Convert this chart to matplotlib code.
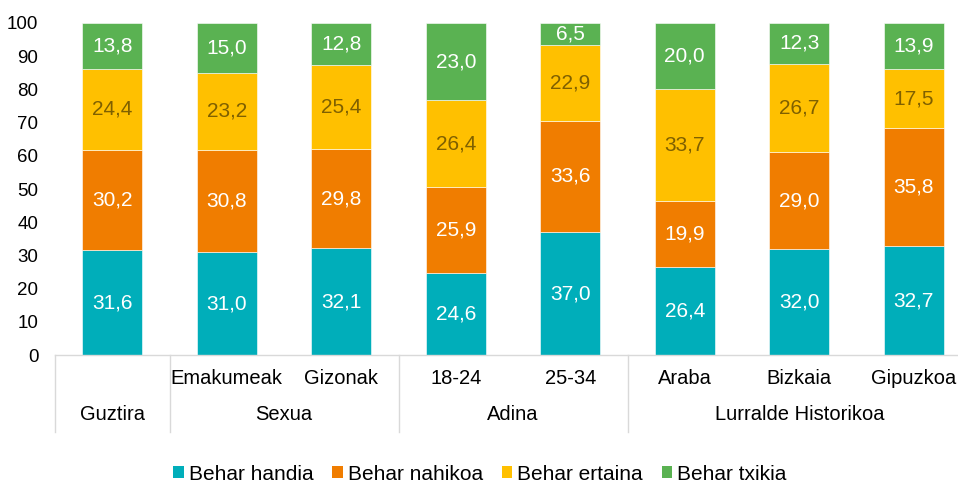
import matplotlib
matplotlib.use("Agg")
import matplotlib.pyplot as plt
from matplotlib.patches import Patch
from matplotlib.lines import Line2D
import numpy as np

plt.rcParams['font.family'] = ['Liberation Sans', 'DejaVu Sans']

categories = ["", "Emakumeak", "Gizonak", "18-24", "25-34", "Araba", "Bizkaia", "Gipuzkoa"]
groups = ["Guztira", "Sexua", "Adina", "Lurralde Historikoa"]
group_sizes = [1, 2, 2, 3]
series_names = ["Behar handia", "Behar nahikoa", "Behar ertaina", "Behar txikia"]
handia = [31.6, 31.0, 32.1, 24.6, 37.0, 26.4, 32.0, 32.7]
nahikoa = [30.2, 30.8, 29.8, 25.9, 33.6, 19.9, 29.0, 35.8]
ertaina = [24.4, 23.2, 25.4, 26.4, 22.9, 33.7, 26.7, 17.5]
txikia = [13.8, 15.0, 12.8, 23.0, 6.5, 20.0, 12.3, 13.9]
yticks = [0, 10, 20, 30, 40, 50, 60, 70, 80, 90, 100]

colors = ["#00AEBA", "#F07D00", "#FFC000", "#5AB252"]
label_colors = ["white", "white", "#7F6000", "white"]

W, H = 958, 484
fig = plt.figure(figsize=(W / 100, H / 100), dpi=100)
left, right = 55, 55 + 916
top, bottom = 23, 355
ax = fig.add_axes([left / W, (H - bottom) / H, (right - left) / W, (bottom - top) / H])

x = np.arange(len(categories))
series = [handia, nahikoa, ertaina, txikia]
base = np.zeros(len(categories))
for vals, c, lc in zip(series, colors, label_colors):
    vals = np.array(vals)
    ax.bar(x, vals, bottom=base, width=0.525, color=c, edgecolor="white", linewidth=0.4)
    for xi, b, v in zip(x, base, vals):
        ax.text(xi, b + v / 2, f"{v:.1f}".replace(".", ","), ha="center", va="center",
                color=lc, fontsize=15)
    base = base + vals

ax.set_xlim(-0.5, len(categories) - 0.5)
ax.set_ylim(0, 100)
ax.set_yticks(yticks)
ax.set_yticklabels([str(t) for t in yticks], fontsize=13.5)
ax.tick_params(axis="y", length=0, pad=12)
ax.set_xticks([])
for s in ["left", "right", "top"]:
    ax.spines[s].set_visible(False)
ax.spines["bottom"].set_color("#D9D9D9")
ax.spines["bottom"].set_linewidth(1)

# category labels
trans = ax.get_xaxis_transform()
px = 1.0 / (bottom - top)
for xi, lab in zip(x, categories):
    ax.text(xi, -(378 - bottom) * px, lab, transform=trans, ha="center", va="center", fontsize=14.5)

# group labels and separators
pos = -0.5
sep_bottom = -(432 - bottom) * px
ax.add_line(Line2D([pos, pos], [0, sep_bottom], transform=trans, color="#D9D9D9", lw=1, clip_on=False))
for g, n in zip(groups, group_sizes):
    center = pos + n / 2
    ax.text(center, -(415 - bottom) * px, g, transform=trans, ha="center", va="center", fontsize=14.5)
    pos += n
    ax.add_line(Line2D([pos, pos], [0, sep_bottom], transform=trans, color="#D9D9D9", lw=1, clip_on=False))

handles = [Patch(facecolor=c, edgecolor="none") for c in colors]
fig.legend(handles, series_names, loc="center", bbox_to_anchor=(480 / W, (H - 474) / H), ncol=4,
           frameon=False, fontsize=15, handlelength=0.5, handleheight=0.55, handletextpad=0.25,
           columnspacing=0.9)

fig.savefig("out.png", dpi=100)
